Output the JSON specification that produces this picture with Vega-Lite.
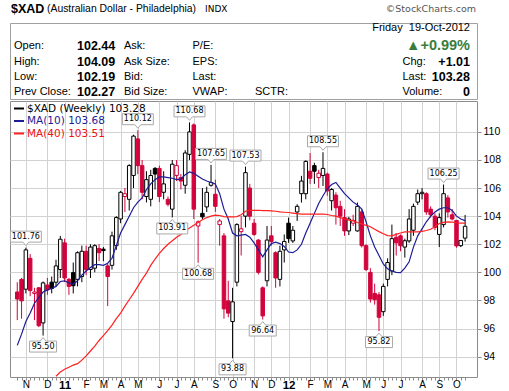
{
  "$schema": "https://vega.github.io/schema/vega-lite/v6.json",
  "padding": {"left": 7, "top": 0, "right": 0, "bottom": 0},
  "background": "#ffffff",
  "spacing": 0,
  "resolve": {"scale": {"x": "independent", "y": "independent", "color": "independent"}},
  "config": {
    "font": "Liberation Sans",
    "view": {"stroke": null},
    "text": {"font": "Liberation Sans", "color": "#000000"},
    "axis": {"labelFont": "Liberation Sans", "labelColor": "#000000"},
    "axisY": {"labelOverlap": false, "labelSeparation": 0},
    "axisRight": {"labelOverlap": false}
  },
  "datasets": {
    "px": [
      {"d":"2010-10-18","o":98.6,"h":99.3,"l":96.6,"c":98.1,"m10":94.8},
      {"d":"2010-10-25","o":99.5,"h":99.6,"l":96.7,"c":97.97,"m10":95.6},
      {"d":"2010-11-01","o":98.8,"h":101.76,"l":98.5,"c":101.6,"m10":96.5},
      {"d":"2010-11-08","o":101.0,"h":101.3,"l":98.3,"c":98.7,"m10":97.1},
      {"d":"2010-11-15","o":98.5,"h":98.9,"l":96.6,"c":98.6,"m10":97.8},
      {"d":"2010-11-22","o":98.9,"h":98.95,"l":96.1,"c":96.2,"m10":98.2},
      {"d":"2010-11-29","o":96.4,"h":99.35,"l":95.5,"c":99.25,"m10":98.6},
      {"d":"2010-12-06","o":99.1,"h":99.6,"l":98.4,"c":98.75,"m10":98.75},
      {"d":"2010-12-13","o":99.3,"h":99.7,"l":98.5,"c":98.85,"m10":98.85},
      {"d":"2010-12-20","o":99.3,"h":100.9,"l":99.0,"c":100.46,"m10":99.0,"m40":92.6},
      {"d":"2010-12-27","o":100.2,"h":102.6,"l":99.6,"c":102.36,"m10":99.35,"m40":92.9},
      {"d":"2011-01-03","o":102.1,"h":102.4,"l":99.3,"c":99.6,"m10":99.4,"m40":93.1},
      {"d":"2011-01-10","o":99.5,"h":99.6,"l":98.4,"c":99.0,"m10":99.25,"m40":93.25},
      {"d":"2011-01-17","o":99.98,"h":100.7,"l":98.5,"c":99.05,"m10":99.15,"m40":93.4},
      {"d":"2011-01-24","o":99.5,"h":101.5,"l":99.0,"c":101.4,"m10":99.4,"m40":93.5},
      {"d":"2011-01-31","o":99.7,"h":101.9,"l":99.3,"c":101.5,"m10":99.8,"m40":93.75},
      {"d":"2011-02-07","o":101.5,"h":101.9,"l":99.8,"c":100.2,"m10":100.1,"m40":94.05},
      {"d":"2011-02-14","o":100.2,"h":102.0,"l":99.6,"c":101.8,"m10":100.35,"m40":94.4},
      {"d":"2011-02-21","o":100.3,"h":102.0,"l":100.0,"c":101.9,"m10":100.55,"m40":94.75},
      {"d":"2011-02-28","o":101.7,"h":102.0,"l":100.8,"c":101.4,"m10":100.55,"m40":95.15},
      {"d":"2011-03-07","o":101.65,"h":101.8,"l":100.8,"c":101.55,"m10":100.5,"m40":95.5},
      {"d":"2011-03-14","o":100.46,"h":100.6,"l":97.6,"c":99.7,"m10":100.65,"m40":95.85},
      {"d":"2011-03-21","o":100.5,"h":102.9,"l":100.2,"c":102.6,"m10":101.0,"m40":96.25},
      {"d":"2011-03-28","o":101.9,"h":104.0,"l":101.6,"c":103.9,"m10":101.9,"m40":96.7},
      {"d":"2011-04-04","o":103.8,"h":105.8,"l":103.5,"c":105.7,"m10":102.8,"m40":97.1},
      {"d":"2011-04-11","o":105.4,"h":106.0,"l":104.3,"c":105.6,"m10":103.4,"m40":97.6},
      {"d":"2011-04-18","o":105.2,"h":107.7,"l":104.4,"c":107.6,"m10":104.0,"m40":98.05},
      {"d":"2011-04-25","o":106.9,"h":109.8,"l":106.0,"c":109.7,"m10":104.6,"m40":98.5},
      {"d":"2011-05-02","o":109.5,"h":110.12,"l":107.0,"c":107.6,"m10":105.0,"m40":99.0},
      {"d":"2011-05-09","o":107.6,"h":108.0,"l":105.2,"c":105.7,"m10":105.3,"m40":99.5},
      {"d":"2011-05-16","o":105.4,"h":107.2,"l":104.98,"c":106.6,"m10":105.9,"m40":99.95},
      {"d":"2011-05-23","o":105.2,"h":107.3,"l":104.7,"c":106.9,"m10":106.3,"m40":100.5},
      {"d":"2011-05-30","o":107.4,"h":107.5,"l":105.9,"c":107.0,"m10":106.6,"m40":100.95},
      {"d":"2011-06-06","o":107.4,"h":107.6,"l":105.0,"c":105.4,"m10":106.8,"m40":101.35},
      {"d":"2011-06-13","o":105.7,"h":107.2,"l":105.2,"c":106.3,"m10":106.8,"m40":101.7},
      {"d":"2011-06-20","o":105.2,"h":105.4,"l":104.7,"c":104.85,"m10":106.75,"m40":102.0},
      {"d":"2011-06-27","o":104.5,"h":108.0,"l":103.91,"c":107.7,"m10":106.7,"m40":102.25},
      {"d":"2011-07-04","o":106.9,"h":108.0,"l":106.5,"c":107.6,"m10":106.6,"m40":102.5},
      {"d":"2011-07-11","o":106.75,"h":107.0,"l":105.9,"c":106.5,"m10":106.65,"m40":102.7},
      {"d":"2011-07-18","o":106.2,"h":108.7,"l":105.6,"c":108.5,"m10":106.95,"m40":102.95},
      {"d":"2011-07-25","o":108.4,"h":110.68,"l":108.0,"c":110.0,"m10":107.15,"m40":103.15},
      {"d":"2011-08-01","o":110.5,"h":110.6,"l":103.8,"c":104.5,"m10":107.05,"m40":103.35},
      {"d":"2011-08-08","o":103.3,"h":103.7,"l":100.68,"c":103.6,"m10":106.85,"m40":103.55},
      {"d":"2011-08-15","o":104.2,"h":106.0,"l":103.8,"c":103.95,"m10":106.65,"m40":103.75},
      {"d":"2011-08-22","o":104.66,"h":106.1,"l":104.3,"c":105.7,"m10":106.5,"m40":103.9},
      {"d":"2011-08-29","o":106.2,"h":107.65,"l":106.1,"c":106.4,"m10":106.4,"m40":104.0},
      {"d":"2011-09-05","o":105.56,"h":106.6,"l":104.3,"c":104.7,"m10":106.3,"m40":104.07},
      {"d":"2011-09-12","o":103.4,"h":103.8,"l":101.9,"c":103.66,"m10":105.6,"m40":104.05},
      {"d":"2011-09-19","o":102.6,"h":102.8,"l":96.7,"c":97.4,"m10":104.5,"m40":103.97},
      {"d":"2011-09-26","o":97.97,"h":99.4,"l":96.8,"c":97.1,"m10":103.8,"m40":103.95},
      {"d":"2011-10-03","o":96.5,"h":98.9,"l":93.88,"c":97.9,"m10":102.8,"m40":103.95},
      {"d":"2011-10-10","o":99.3,"h":103.5,"l":99.0,"c":103.4,"m10":102.6,"m40":103.97},
      {"d":"2011-10-17","o":102.9,"h":104.0,"l":101.2,"c":103.1,"m10":102.65,"m40":104.1},
      {"d":"2011-10-24","o":104.0,"h":107.53,"l":103.2,"c":107.1,"m10":102.7,"m40":104.35},
      {"d":"2011-10-31","o":106.0,"h":106.3,"l":103.7,"c":104.0,"m10":102.5,"m40":104.42},
      {"d":"2011-11-07","o":103.5,"h":103.8,"l":102.6,"c":102.7,"m10":102.1,"m40":104.42},
      {"d":"2011-11-14","o":102.3,"h":102.36,"l":99.85,"c":100.0,"m10":101.6,"m40":104.42},
      {"d":"2011-11-21","o":98.9,"h":99.0,"l":96.64,"c":96.9,"m10":101.1,"m40":104.4},
      {"d":"2011-11-28","o":99.4,"h":103.3,"l":99.0,"c":102.3,"m10":101.6,"m40":104.4},
      {"d":"2011-12-05","o":102.6,"h":103.3,"l":101.9,"c":102.2,"m10":102.05,"m40":104.38},
      {"d":"2011-12-12","o":101.4,"h":101.5,"l":98.9,"c":99.6,"m10":102.15,"m40":104.35},
      {"d":"2011-12-19","o":99.5,"h":101.9,"l":99.0,"c":101.5,"m10":102.05,"m40":104.3},
      {"d":"2011-12-26","o":101.6,"h":102.7,"l":100.7,"c":102.2,"m10":101.85,"m40":104.28},
      {"d":"2012-01-02","o":103.5,"h":103.9,"l":102.1,"c":102.4,"m10":101.45,"m40":104.26},
      {"d":"2012-01-09","o":102.24,"h":103.3,"l":102.1,"c":103.0,"m10":101.4,"m40":104.22},
      {"d":"2012-01-16","o":104.3,"h":104.85,"l":103.66,"c":104.7,"m10":101.6,"m40":104.18},
      {"d":"2012-01-23","o":105.6,"h":106.87,"l":104.97,"c":106.5,"m10":102.0,"m40":104.15},
      {"d":"2012-01-30","o":105.6,"h":107.98,"l":105.2,"c":107.9,"m10":102.8,"m40":104.14},
      {"d":"2012-02-06","o":107.2,"h":108.5,"l":106.3,"c":106.7,"m10":103.5,"m40":104.14},
      {"d":"2012-02-13","o":107.6,"h":107.8,"l":106.3,"c":107.2,"m10":104.2,"m40":104.14},
      {"d":"2012-02-20","o":106.75,"h":107.3,"l":106.0,"c":107.06,"m10":104.9,"m40":104.14},
      {"d":"2012-02-27","o":106.9,"h":108.55,"l":106.15,"c":107.4,"m10":105.45,"m40":104.14},
      {"d":"2012-03-05","o":107.0,"h":107.1,"l":105.45,"c":105.8,"m10":105.95,"m40":104.12},
      {"d":"2012-03-12","o":105.1,"h":106.0,"l":104.4,"c":105.9,"m10":106.25,"m40":104.05},
      {"d":"2012-03-19","o":105.5,"h":105.7,"l":103.4,"c":104.6,"m10":106.4,"m40":104.0},
      {"d":"2012-03-26","o":104.7,"h":105.1,"l":103.3,"c":104.0,"m10":106.0,"m40":103.9},
      {"d":"2012-04-02","o":103.9,"h":104.5,"l":102.6,"c":102.95,"m10":105.6,"m40":103.8},
      {"d":"2012-04-09","o":102.95,"h":103.95,"l":102.65,"c":103.8,"m10":105.3,"m40":103.72},
      {"d":"2012-04-16","o":103.5,"h":104.1,"l":103.3,"c":103.7,"m10":105.0,"m40":103.66},
      {"d":"2012-04-23","o":102.95,"h":104.97,"l":102.9,"c":104.7,"m10":104.8,"m40":103.55},
      {"d":"2012-04-30","o":104.3,"h":104.5,"l":101.77,"c":101.9,"m10":104.5,"m40":103.45},
      {"d":"2012-05-07","o":101.9,"h":102.0,"l":100.1,"c":100.2,"m10":103.6,"m40":103.35},
      {"d":"2012-05-14","o":100.0,"h":100.3,"l":97.85,"c":98.1,"m10":102.6,"m40":103.25},
      {"d":"2012-05-21","o":98.5,"h":99.2,"l":97.7,"c":98.05,"m10":101.8,"m40":103.07},
      {"d":"2012-05-28","o":98.4,"h":98.6,"l":95.82,"c":96.8,"m10":101.2,"m40":102.9},
      {"d":"2012-06-04","o":97.2,"h":99.2,"l":96.9,"c":99.0,"m10":100.6,"m40":102.75},
      {"d":"2012-06-11","o":99.5,"h":101.0,"l":99.0,"c":100.7,"m10":100.25,"m40":102.62},
      {"d":"2012-06-18","o":100.1,"h":103.4,"l":99.8,"c":102.4,"m10":100.1,"m40":102.6},
      {"d":"2012-06-25","o":102.5,"h":102.8,"l":101.2,"c":102.1,"m10":100.0,"m40":102.7},
      {"d":"2012-07-02","o":102.6,"h":102.7,"l":101.5,"c":101.9,"m10":99.98,"m40":102.8},
      {"d":"2012-07-09","o":101.8,"h":102.4,"l":101.05,"c":102.25,"m10":100.3,"m40":102.88},
      {"d":"2012-07-16","o":102.24,"h":104.5,"l":102.1,"c":103.8,"m10":100.75,"m40":102.88},
      {"d":"2012-07-23","o":103.0,"h":104.9,"l":102.6,"c":104.7,"m10":101.8,"m40":102.88},
      {"d":"2012-07-30","o":105.0,"h":105.9,"l":104.8,"c":105.6,"m10":102.6,"m40":102.88},
      {"d":"2012-08-06","o":105.6,"h":106.0,"l":105.2,"c":105.7,"m10":103.1,"m40":102.92},
      {"d":"2012-08-13","o":105.6,"h":105.7,"l":104.1,"c":104.3,"m10":103.6,"m40":102.98},
      {"d":"2012-08-20","o":104.5,"h":104.7,"l":103.9,"c":104.1,"m10":104.0,"m40":103.07},
      {"d":"2012-08-27","o":104.0,"h":104.2,"l":103.0,"c":103.2,"m10":104.3,"m40":103.25},
      {"d":"2012-09-03","o":102.7,"h":104.2,"l":101.8,"c":103.9,"m10":104.5,"m40":103.48},
      {"d":"2012-09-10","o":103.4,"h":106.25,"l":103.2,"c":105.6,"m10":104.6,"m40":103.56},
      {"d":"2012-09-17","o":105.3,"h":105.5,"l":103.9,"c":104.3,"m10":104.6,"m40":103.6},
      {"d":"2012-09-24","o":104.1,"h":104.5,"l":103.7,"c":103.8,"m10":104.4,"m40":103.58},
      {"d":"2012-10-01","o":103.7,"h":103.7,"l":101.75,"c":101.88,"m10":104.0,"m40":103.53},
      {"d":"2012-10-08","o":101.9,"h":102.3,"l":101.8,"c":102.27,"m10":103.8,"m40":103.5},
      {"d":"2012-10-15","o":102.44,"h":104.09,"l":102.19,"c":103.28,"m10":103.68,"m40":103.51}
    ],
    "ann": [
      {"d":"2010-11-01","v":101.76,"t":"high"},
      {"d":"2010-11-29","v":95.5,"t":"low"},
      {"d":"2011-05-02","v":110.12,"t":"high"},
      {"d":"2011-06-27","v":103.91,"t":"low"},
      {"d":"2011-07-25","v":110.68,"t":"high"},
      {"d":"2011-08-08","v":100.68,"t":"low"},
      {"d":"2011-08-29","v":107.65,"t":"high"},
      {"d":"2011-10-03","v":93.88,"t":"low"},
      {"d":"2011-10-24","v":107.53,"t":"high"},
      {"d":"2011-11-21","v":96.64,"t":"low"},
      {"d":"2012-02-27","v":108.55,"t":"high"},
      {"d":"2012-05-28","v":95.82,"t":"low"},
      {"d":"2012-09-10","v":106.25,"t":"high"}
    ]
  },
  "vconcat": [
    {
      "width": 467,
      "height": 21,
      "view": {"stroke": null},
      "data": {"values": [
        {"c":0,"t":"$XAD","k":"sym"},
        {"c":1,"t":"(Australian Dollar - Philadelphia)","k":"name"},
        {"c":2,"t":"INDX","k":"exch"},
        {"c":3,"t":"©StockCharts.com","k":"src"}
      ]},
      "encoding": {
        "x": {"field":"c","type":"quantitative","scale":{"domain":[0,1,2,3],"range":[1,37,195,466],"nice":false,"zero":false},"axis":null},
        "y": {"datum":1,"type":"quantitative","scale":{"domain":[0,2],"range":[0,18],"nice":false},"axis":null},
        "text": {"field":"t"}
      },
      "layer": [
        {"transform":[{"filter":"datum.k == 'sym'"}],"mark":{"type":"text","align":"left","baseline":"middle","fontSize":12.5,"fontWeight":"bold"}},
        {"transform":[{"filter":"datum.k == 'name'"}],"mark":{"type":"text","align":"left","baseline":"middle","fontSize":10.4}},
        {"transform":[{"filter":"datum.k == 'exch'"}],"mark":{"type":"text","align":"left","baseline":"middle","fontSize":9,"font":"DejaVu Sans"}},
        {"transform":[{"filter":"datum.k == 'src'"}],"mark":{"type":"text","align":"right","baseline":"middle","fontSize":9.5,"font":"DejaVu Sans","color":"#555555"}}
      ]
    },
    {
      "width": 467,
      "height": 76,
      "view": {"stroke": "#a0a0a0"},
      "data": {"values": [
        {"r":0,"c":6,"t":"Friday\u00a0 19-Oct-2012","role":"date"},
        {"r":1,"c":0,"t":"Open:","role":"label"},
        {"r":1,"c":1,"t":"102.44","role":"value"},
        {"r":1,"c":2,"t":"Ask:","role":"label"},
        {"r":1,"c":3,"t":"P/E:","role":"label"},
        {"r":1,"c":6,"t":"▲+0.99%","role":"change"},
        {"r":2,"c":0,"t":"High:","role":"label"},
        {"r":2,"c":1,"t":"104.09","role":"value"},
        {"r":2,"c":2,"t":"Ask Size:","role":"label"},
        {"r":2,"c":3,"t":"EPS:","role":"label"},
        {"r":2,"c":5,"t":"Chg:","role":"label"},
        {"r":2,"c":6,"t":"+1.01","role":"rvalue"},
        {"r":3,"c":0,"t":"Low:","role":"label"},
        {"r":3,"c":1,"t":"102.19","role":"value"},
        {"r":3,"c":2,"t":"Bid:","role":"label"},
        {"r":3,"c":3,"t":"Last:","role":"label"},
        {"r":3,"c":5,"t":"Last:","role":"label"},
        {"r":3,"c":6,"t":"103.28","role":"rvalue"},
        {"r":4,"c":0,"t":"Prev Close:","role":"label"},
        {"r":4,"c":1,"t":"102.27","role":"value"},
        {"r":4,"c":2,"t":"Bid Size:","role":"label"},
        {"r":4,"c":3,"t":"VWAP:","role":"label"},
        {"r":4,"c":4,"t":"SCTR:","role":"label"},
        {"r":4,"c":5,"t":"Volume:","role":"label"},
        {"r":4,"c":6,"t":"0","role":"rvalue"}
      ]},
      "encoding": {
        "x": {"field":"c","type":"quantitative","scale":{"domain":[0,1,2,3,4,5,6],"range":[4,67,114,182.5,245,392.5,460],"nice":false,"zero":false},"axis":null},
        "y": {"field":"r","type":"quantitative","scale":{"domain":[0,1,2,3,4],"range":[5,22.5,38.5,53.5,69],"nice":false,"zero":false},"axis":null},
        "text": {"field":"t"}
      },
      "layer": [
        {"transform":[{"filter":"datum.role == 'label'"}],"mark":{"type":"text","align":"left","baseline":"middle","fontSize":11}},
        {"transform":[{"filter":"datum.role == 'value'"}],"mark":{"type":"text","align":"left","baseline":"middle","fontSize":12.5,"fontWeight":"bold"}},
        {"transform":[{"filter":"datum.role == 'rvalue'"}],"mark":{"type":"text","align":"right","baseline":"middle","fontSize":12.5,"fontWeight":"bold"}},
        {"transform":[{"filter":"datum.role == 'date'"}],"mark":{"type":"text","align":"right","baseline":"middle","fontSize":11}},
        {"transform":[{"filter":"datum.role == 'change'"}],"mark":{"type":"text","align":"right","baseline":"middle","fontSize":14.5,"fontWeight":"bold","color":"#3a7d3a"}}
      ]
    },
    {
      "width": 467,
      "height": 276,
      "view": {"stroke": "#8c8c8c"},
      "encoding": {
        "x": {
          "field": "d", "type": "temporal", "title": null,
          "scale": {"type": "utc", "domain": [
            {"year":2010,"month":10,"date":14,"hours":8,"utc":true},
            {"year":2012,"month":10,"date":26,"hours":5,"utc":true}
          ]},
          "axis": {
            "grid": true,
            "domain": false,
            "gridColor": "#d2d2d2",
            "gridOpacity": {"condition": {"test": "utcdate(datum.value) <= 7", "value": 1}, "value": 0},
            "tickSize": 3,
            "tickColor": "#8c8c8c",
            "labelPadding": -1,
            "labelOverlap": false,
            "labelFlush": false,
            "labelFontSize": {"condition": {"test": "utcmonth(datum.value) == 0", "value": 11.5}, "value": 10},
            "labelFontWeight": {"condition": {"test": "utcmonth(datum.value) == 0", "value": "bold"}, "value": "normal"},
            "labelExpr": "utcdate(datum.value) <= 7 ? (utcmonth(datum.value) == 0 ? utcFormat(datum.value, '%y') : slice(utcFormat(datum.value, '%b'), 0, 1)) : ''",
            "values": [
              {"year":2010,"month":10,"date":18,"utc":true},{"year":2010,"month":10,"date":25,"utc":true},
              {"year":2010,"month":11,"date":1,"utc":true},{"year":2010,"month":11,"date":8,"utc":true},
              {"year":2010,"month":11,"date":15,"utc":true},{"year":2010,"month":11,"date":22,"utc":true},
              {"year":2010,"month":11,"date":29,"utc":true},{"year":2010,"month":12,"date":6,"utc":true},
              {"year":2010,"month":12,"date":13,"utc":true},{"year":2010,"month":12,"date":20,"utc":true},
              {"year":2010,"month":12,"date":27,"utc":true},
              {"year":2011,"month":1,"date":3,"utc":true},{"year":2011,"month":1,"date":10,"utc":true},
              {"year":2011,"month":1,"date":17,"utc":true},{"year":2011,"month":1,"date":24,"utc":true},
              {"year":2011,"month":1,"date":31,"utc":true},{"year":2011,"month":2,"date":7,"utc":true},
              {"year":2011,"month":2,"date":14,"utc":true},{"year":2011,"month":2,"date":21,"utc":true},
              {"year":2011,"month":2,"date":28,"utc":true},{"year":2011,"month":3,"date":7,"utc":true},
              {"year":2011,"month":3,"date":14,"utc":true},{"year":2011,"month":3,"date":21,"utc":true},
              {"year":2011,"month":3,"date":28,"utc":true},{"year":2011,"month":4,"date":4,"utc":true},
              {"year":2011,"month":4,"date":11,"utc":true},{"year":2011,"month":4,"date":18,"utc":true},
              {"year":2011,"month":4,"date":25,"utc":true},{"year":2011,"month":5,"date":2,"utc":true},
              {"year":2011,"month":5,"date":9,"utc":true},{"year":2011,"month":5,"date":16,"utc":true},
              {"year":2011,"month":5,"date":23,"utc":true},{"year":2011,"month":5,"date":30,"utc":true},
              {"year":2011,"month":6,"date":6,"utc":true},{"year":2011,"month":6,"date":13,"utc":true},
              {"year":2011,"month":6,"date":20,"utc":true},{"year":2011,"month":6,"date":27,"utc":true},
              {"year":2011,"month":7,"date":4,"utc":true},{"year":2011,"month":7,"date":11,"utc":true},
              {"year":2011,"month":7,"date":18,"utc":true},{"year":2011,"month":7,"date":25,"utc":true},
              {"year":2011,"month":8,"date":1,"utc":true},{"year":2011,"month":8,"date":8,"utc":true},
              {"year":2011,"month":8,"date":15,"utc":true},{"year":2011,"month":8,"date":22,"utc":true},
              {"year":2011,"month":8,"date":29,"utc":true},{"year":2011,"month":9,"date":5,"utc":true},
              {"year":2011,"month":9,"date":12,"utc":true},{"year":2011,"month":9,"date":19,"utc":true},
              {"year":2011,"month":9,"date":26,"utc":true},{"year":2011,"month":10,"date":3,"utc":true},
              {"year":2011,"month":10,"date":10,"utc":true},{"year":2011,"month":10,"date":17,"utc":true},
              {"year":2011,"month":10,"date":24,"utc":true},{"year":2011,"month":10,"date":31,"utc":true},
              {"year":2011,"month":11,"date":7,"utc":true},{"year":2011,"month":11,"date":14,"utc":true},
              {"year":2011,"month":11,"date":21,"utc":true},{"year":2011,"month":11,"date":28,"utc":true},
              {"year":2011,"month":12,"date":5,"utc":true},{"year":2011,"month":12,"date":12,"utc":true},
              {"year":2011,"month":12,"date":19,"utc":true},{"year":2011,"month":12,"date":26,"utc":true},
              {"year":2012,"month":1,"date":2,"utc":true},{"year":2012,"month":1,"date":9,"utc":true},
              {"year":2012,"month":1,"date":16,"utc":true},{"year":2012,"month":1,"date":23,"utc":true},
              {"year":2012,"month":1,"date":30,"utc":true},{"year":2012,"month":2,"date":6,"utc":true},
              {"year":2012,"month":2,"date":13,"utc":true},{"year":2012,"month":2,"date":20,"utc":true},
              {"year":2012,"month":2,"date":27,"utc":true},{"year":2012,"month":3,"date":5,"utc":true},
              {"year":2012,"month":3,"date":12,"utc":true},{"year":2012,"month":3,"date":19,"utc":true},
              {"year":2012,"month":3,"date":26,"utc":true},{"year":2012,"month":4,"date":2,"utc":true},
              {"year":2012,"month":4,"date":9,"utc":true},{"year":2012,"month":4,"date":16,"utc":true},
              {"year":2012,"month":4,"date":23,"utc":true},{"year":2012,"month":4,"date":30,"utc":true},
              {"year":2012,"month":5,"date":7,"utc":true},{"year":2012,"month":5,"date":14,"utc":true},
              {"year":2012,"month":5,"date":21,"utc":true},{"year":2012,"month":5,"date":28,"utc":true},
              {"year":2012,"month":6,"date":4,"utc":true},{"year":2012,"month":6,"date":11,"utc":true},
              {"year":2012,"month":6,"date":18,"utc":true},{"year":2012,"month":6,"date":25,"utc":true},
              {"year":2012,"month":7,"date":2,"utc":true},{"year":2012,"month":7,"date":9,"utc":true},
              {"year":2012,"month":7,"date":16,"utc":true},{"year":2012,"month":7,"date":23,"utc":true},
              {"year":2012,"month":7,"date":30,"utc":true},{"year":2012,"month":8,"date":6,"utc":true},
              {"year":2012,"month":8,"date":13,"utc":true},{"year":2012,"month":8,"date":20,"utc":true},
              {"year":2012,"month":8,"date":27,"utc":true},{"year":2012,"month":9,"date":3,"utc":true},
              {"year":2012,"month":9,"date":10,"utc":true},{"year":2012,"month":9,"date":17,"utc":true},
              {"year":2012,"month":9,"date":24,"utc":true},{"year":2012,"month":10,"date":1,"utc":true},
              {"year":2012,"month":10,"date":8,"utc":true},{"year":2012,"month":10,"date":15,"utc":true}
            ]
          }
        }
      },
      "layer": [
        {
          "data": {"name": "px"},
          "transform": [{"window": [{"op": "lag", "field": "c", "as": "pc"}], "sort": [{"field": "d"}]}],
          "mark": {"type": "rule", "strokeWidth": 1},
          "encoding": {
            "y": {"field": "l", "type": "quantitative", "title": null,
              "scale": {"domain": [92.55, 112.2], "nice": false, "zero": false},
              "axis": {"orient": "right", "values": [94,96,98,100,102,104,106,108,110], "grid": true, "gridColor": "#d2d2d2", "domain": false, "tickSize": 4, "tickColor": "#8c8c8c", "labelPadding": 2, "labelFontSize": 10.5, "labelOverlap": false, "labelFlush": false}},
            "y2": {"field": "h"},
            "stroke": {"condition": {"test": "datum.pc != null && datum.c >= datum.pc", "value": "#000000"}, "value": "#d2043c"}
          }
        },
        {
          "data": {"name": "px"},
          "transform": [{"window": [{"op": "lag", "field": "c", "as": "pc"}], "sort": [{"field": "d"}]}],
          "mark": {"type": "bar", "width": 3.5, "strokeWidth": 1},
          "encoding": {
            "y": {"field": "o", "type": "quantitative", "title": null,
              "axis": {"orient": "right", "values": [94,96,98,100,102,104,106,108,110], "grid": true, "gridColor": "#d2d2d2", "domain": false, "tickSize": 4, "tickColor": "#8c8c8c", "labelPadding": 2, "labelFontSize": 10.5, "labelOverlap": false, "labelFlush": false}},
            "y2": {"field": "c"},
            "fill": {"condition": [
              {"test": "datum.c > datum.o", "value": "#ffffff"},
              {"test": "datum.pc != null && datum.c >= datum.pc", "value": "#000000"}
            ], "value": "#d2043c"},
            "stroke": {"condition": {"test": "datum.pc != null && datum.c >= datum.pc", "value": "#000000"}, "value": "#d2043c"}
          }
        },
        {
          "data": {"name": "px"},
          "transform": [{"fold": ["m10", "m40"], "as": ["s", "v"]}, {"filter": "isValid(datum.v)"}],
          "mark": {"type": "line", "strokeWidth": 1.2, "clip": true},
          "encoding": {
            "y": {"field": "v", "type": "quantitative", "title": null,
              "axis": {"orient": "right", "values": [94,96,98,100,102,104,106,108,110], "grid": true, "gridColor": "#d2d2d2", "domain": false, "tickSize": 4, "tickColor": "#8c8c8c", "labelPadding": 2, "labelFontSize": 10.5, "labelOverlap": false, "labelFlush": false}},
            "color": {
              "field": "s", "type": "nominal",
              "scale": {"domain": ["px", "m10", "m40"], "range": ["#000000", "#1c1c96", "#ff2020"]},
              "legend": {
                "orient": "none", "legendX": 3, "legendY": 1.5, "title": null, "padding": 0,
                "labelFont": "DejaVu Sans", "labelFontSize": 10.5, "rowPadding": 0.5,
                "symbolSize": 100, "symbolType": "stroke", "symbolStrokeWidth": 2, "labelOffset": 2,
                "labelColor": {"expr": "datum.value == 'm10' ? '#1c1c96' : datum.value == 'm40' ? '#ee1111' : '#000000'"},
                "labelExpr": "datum.label == 'px' ? '$XAD (Weekly) 103.28' : datum.label == 'm10' ? 'MA(10) 103.68' : 'MA(40) 103.51'"
              }
            }
          }
        },
        {
          "data": {"name": "ann"},
          "transform": [{"filter": "datum.t == 'high'"}],
          "mark": {"type": "point", "filled": true, "fill": "#ffffff", "stroke": "#a8a8a8", "strokeWidth": 1, "opacity": 1, "yOffset": -11, "size": 961,
            "shape": "M-1,-0.355L1,-0.355L1,0.355L0.19,0.355L0,0.58L-0.19,0.355L-1,0.355Z"},
          "encoding": {"y": {"field": "v", "type": "quantitative", "title": null,
            "axis": {"orient": "right", "values": [94,96,98,100,102,104,106,108,110], "grid": true, "gridColor": "#d2d2d2", "domain": false, "tickSize": 4, "tickColor": "#8c8c8c", "labelPadding": 2, "labelFontSize": 10.5, "labelOverlap": false, "labelFlush": false}}}
        },
        {
          "data": {"name": "ann"},
          "transform": [{"filter": "datum.t == 'high'"}],
          "mark": {"type": "text", "font": "DejaVu Sans", "fontSize": 8, "baseline": "middle", "dy": -11},
          "encoding": {"y": {"field": "v", "type": "quantitative", "title": null,
            "axis": {"orient": "right", "values": [94,96,98,100,102,104,106,108,110], "grid": true, "gridColor": "#d2d2d2", "domain": false, "tickSize": 4, "tickColor": "#8c8c8c", "labelPadding": 2, "labelFontSize": 10.5, "labelOverlap": false, "labelFlush": false}},
            "text": {"field": "v", "type": "quantitative", "format": ".2f"}}
        },
        {
          "data": {"name": "ann"},
          "transform": [{"filter": "datum.t == 'low'"}],
          "mark": {"type": "point", "filled": true, "fill": "#ffffff", "stroke": "#a8a8a8", "strokeWidth": 1, "opacity": 1, "yOffset": 11},
          "encoding": {
            "y": {"field": "v", "type": "quantitative", "title": null,
              "axis": {"orient": "right", "values": [94,96,98,100,102,104,106,108,110], "grid": true, "gridColor": "#d2d2d2", "domain": false, "tickSize": 4, "tickColor": "#8c8c8c", "labelPadding": 2, "labelFontSize": 10.5, "labelOverlap": false, "labelFlush": false}},
            "shape": {"condition": {"test": "datum.v < 100", "value": "M-1,0.407L1,0.407L1,-0.407L0.22,-0.407L0,-0.667L-0.22,-0.407L-1,-0.407Z"}, "value": "M-1,0.355L1,0.355L1,-0.355L0.19,-0.355L0,-0.58L-0.19,-0.355L-1,-0.355Z"},
            "size": {"condition": {"test": "datum.v < 100", "value": 729}, "value": 961}
          }
        },
        {
          "data": {"name": "ann"},
          "transform": [{"filter": "datum.t == 'low'"}],
          "mark": {"type": "text", "font": "DejaVu Sans", "fontSize": 8, "baseline": "middle", "dy": 11},
          "encoding": {"y": {"field": "v", "type": "quantitative", "title": null,
            "axis": {"orient": "right", "values": [94,96,98,100,102,104,106,108,110], "grid": true, "gridColor": "#d2d2d2", "domain": false, "tickSize": 4, "tickColor": "#8c8c8c", "labelPadding": 2, "labelFontSize": 10.5, "labelOverlap": false, "labelFlush": false}},
            "text": {"field": "v", "type": "quantitative", "format": ".2f"}}
        }
      ]
    }
  ]
}
